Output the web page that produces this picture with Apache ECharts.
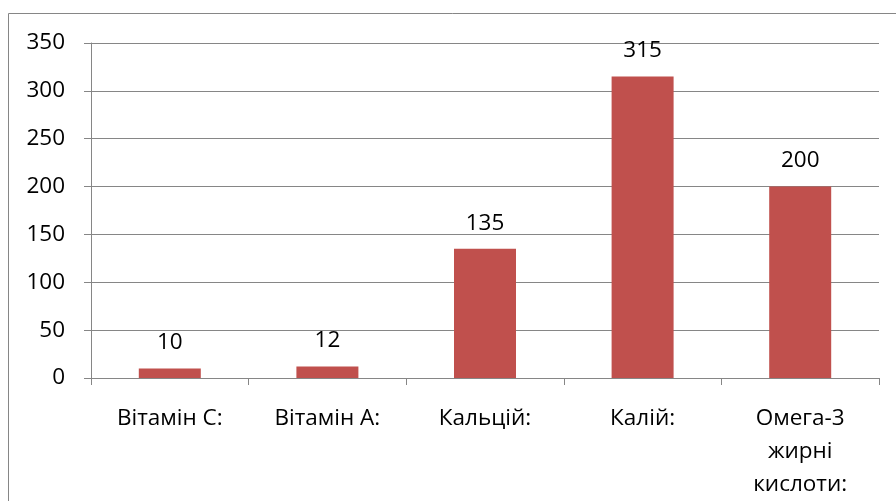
<!DOCTYPE html>
<html><head><meta charset="utf-8">
<script src="https://cdn.jsdelivr.net/npm/echarts@6/dist/echarts.min.js"></script>
<style>html,body{margin:0;padding:0;background:#fff}#c{width:896px;height:501px}</style>
</head><body><div id="c"></div>
<script>
const categories = ['Вітамін С:', 'Вітамін А:', 'Кальцій:', 'Калій:', 'Омега-3 жирні кислоти:'];
const values = [10, 12, 135, 315, 200];
const yTicks = [0, 50, 100, 150, 200, 250, 300, 350];

const chart = echarts.init(document.getElementById('c'), null, {renderer: 'canvas'});
const font = "'Open Sans', 'Liberation Sans', sans-serif";
chart.setOption({
  animation: false,
  backgroundColor: '#fff',
  graphic: [{
    type: 'rect', shape: {x: 8.5, y: 13.5, width: 1000, height: 1000},
    style: {fill: 'none', stroke: '#868686', lineWidth: 1}, silent: true
  }],
  grid: {left: 91, right: 17, top: 43, bottom: 122},
  xAxis: {
    type: 'category', data: categories,
    axisLine: {lineStyle: {color: '#868686', width: 1}},
    axisTick: {show: true, length: 7, lineStyle: {color: '#868686'}},
    axisLabel: {color: '#000', fontFamily: font, fontSize: 22.5, margin: 24, lineHeight: 33,
      interval: 0, hideOverlap: false,
      formatter: v => v.split(' ').length > 2 ? v.replace(/ /g, '\n') : v}
  },
  yAxis: {
    type: 'value', min: yTicks[0], max: yTicks[yTicks.length - 1], interval: 50,
    axisLine: {show: true, lineStyle: {color: '#868686', width: 1}},
    axisTick: {show: true, length: 7, lineStyle: {color: '#868686'}},
    axisLabel: {color: '#000', fontFamily: font, fontSize: 22.5, margin: 26},
    splitLine: {show: true, lineStyle: {color: '#868686', width: 1}}
  },
  series: [{
    type: 'bar', data: values, barWidth: 62,
    itemStyle: {color: '#C0504D'},
    label: {show: true, position: 'top', distance: 14, color: '#000', fontFamily: font, fontSize: 22.5}
  }]
});
</script></body></html>
